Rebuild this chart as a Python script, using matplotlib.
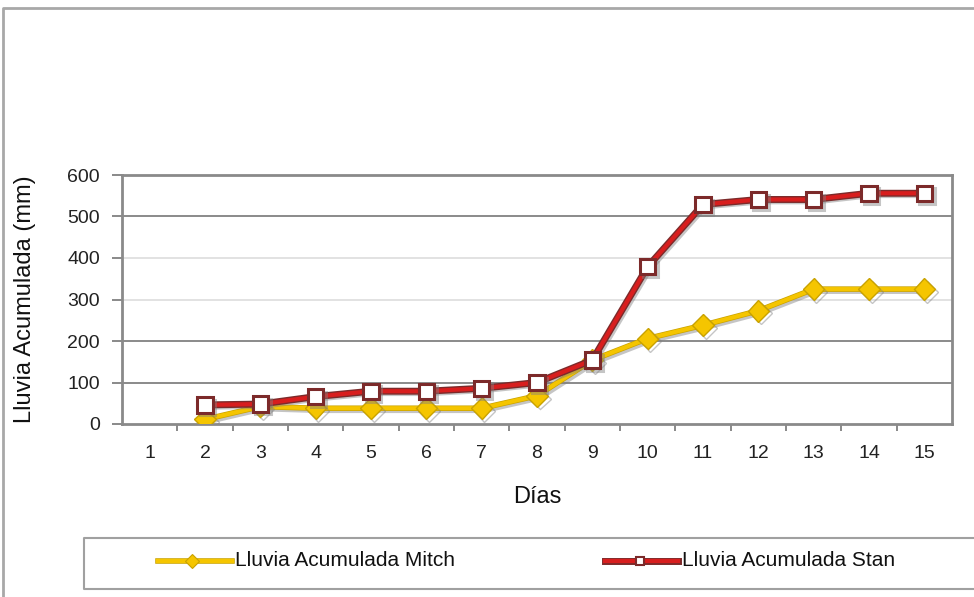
import numpy as np
import matplotlib
matplotlib.use("Agg")
import matplotlib.pyplot as plt
import matplotlib.patheffects as pe
from matplotlib.lines import Line2D

plt.rcParams['font.family'] = ['Liberation Sans', 'DejaVu Sans']

# Accumulated rainfall (mm) per day for two storms
dias = list(range(1, 16))
mitch = [np.nan, 11, 42, 38, 38, 38, 38, 68, 154, 206, 238, 273, 325, 325, 325]
stan = [np.nan, 46, 48, 66, 79, 79, 86, 100, 154, 379, 529, 541, 541, 556, 556]
yticks = [0, 100, 200, 300, 400, 500, 600]
labels = ["Lluvia Acumulada Mitch", "Lluvia Acumulada Stan"]

W, H = 974, 597
fig = plt.figure(figsize=(W / 100, H / 100), dpi=100)


def fx(px):
    return px / W


def fy(py):
    return 1 - py / H


AX_L, AX_R, AX_T, AX_B = 122, 952, 175, 424
ax = fig.add_axes([fx(AX_L), fy(AX_B), fx(AX_R) - fx(AX_L), fy(AX_T) - fy(AX_B)])

gold = '#f5c500'
gold_edge = '#c9a200'
red = '#d81e1e'
red_edge = '#7c2a2a'
shadow = [pe.SimpleLineShadow(offset=(2, -2), shadow_color='#808080', alpha=0.45)]

# Mitch series
ax.plot(dias, mitch, color=gold, lw=3, zorder=3,
        path_effects=shadow + [pe.Stroke(linewidth=4, foreground=gold_edge), pe.Normal()])
ax.plot(dias, mitch, ls='none', marker='D', ms=11, mfc=gold, mec=gold_edge, mew=1,
        zorder=4, path_effects=shadow + [pe.Normal()])

# Stan series
ax.plot(dias, stan, color=red, lw=3, zorder=5,
        path_effects=shadow + [pe.Stroke(linewidth=5, foreground=red_edge), pe.Normal()])
ax.plot(dias, stan, ls='none', marker='s', ms=11, mfc='white', mec=red_edge, mew=2.2,
        zorder=6, path_effects=shadow + [pe.Normal()])

ax.set_xlim(0.5, 15.5)
ax.set_ylim(0, 600)

# Category axis: labels at centres, tick marks between categories
ax.set_xticks(dias)
ax.set_xticklabels([str(d) for d in dias], fontsize=14)
ax.tick_params(axis='x', which='major', length=0, pad=15, colors='#222222')
ax.set_xticks(np.arange(1.5, 15.5, 1.0), minor=True)
ax.tick_params(axis='x', which='minor', length=5, width=1.3, color='#808080', direction='out')

ax.set_yticks(yticks)
ax.set_yticklabels([str(v) for v in yticks], fontsize=14)
ax.tick_params(axis='y', length=7, width=1.3, color='#808080', pad=9, labelcolor='#222222')

# Horizontal gridlines
grid_colors = {100: '#8a8a8a', 200: '#8a8a8a', 300: '#e2e2e2', 400: '#e2e2e2', 500: '#8a8a8a'}
for v, c in grid_colors.items():
    ax.axhline(v, color=c, lw=1.4, zorder=1)

for s in ax.spines.values():
    s.set_color('#8a8a8a')
    s.set_linewidth(2)

ax_w = AX_R - AX_L
ax_h = AX_B - AX_T
ax.set_xlabel('Días', fontsize=17, color='#111111')
ax.xaxis.set_label_coords(0.5, -(486 - AX_B) / ax_h)
ax.set_ylabel('Lluvia Acumulada (mm)', fontsize=17, color='#111111')
ax.yaxis.set_label_coords((36 - AX_L) / ax_w, 0.5)

# Outer chart frame (top and left edges)
fig.add_artist(Line2D([fx(3), fx(3), 1.0], [0.0, fy(8), fy(8)], transform=fig.transFigure,
                      color='#a8a8a8', lw=2))

# Legend box
fig.add_artist(Line2D([1.0, fx(84), fx(84), 1.0], [fy(538), fy(538), fy(589), fy(589)],
                      transform=fig.transFigure, color='#a0a0a0', lw=1.5))

# Legend entries
ly = fy(561)
fig.add_artist(Line2D([fx(158), fx(232)], [ly, ly], transform=fig.transFigure,
                      color=gold, lw=3,
                      path_effects=[pe.Stroke(linewidth=4, foreground=gold_edge), pe.Normal()]))
fig.add_artist(Line2D([fx(192)], [ly], transform=fig.transFigure, ls='none', marker='D',
                      ms=7, mfc=gold, mec=gold_edge, mew=0.8))
fig.text(fx(235), ly, labels[0], fontsize=15, va='center', ha='left', color='#111111')

fig.add_artist(Line2D([fx(605), fx(678)], [ly, ly], transform=fig.transFigure,
                      color=red, lw=3,
                      path_effects=[pe.Stroke(linewidth=5, foreground=red_edge), pe.Normal()]))
fig.add_artist(Line2D([fx(640)], [ly], transform=fig.transFigure, ls='none', marker='s',
                      ms=6, mfc='white', mec=red_edge, mew=1.5))
fig.text(fx(682), ly, labels[1], fontsize=15, va='center', ha='left', color='#111111')

fig.savefig('out.png', dpi=100, facecolor='white')
